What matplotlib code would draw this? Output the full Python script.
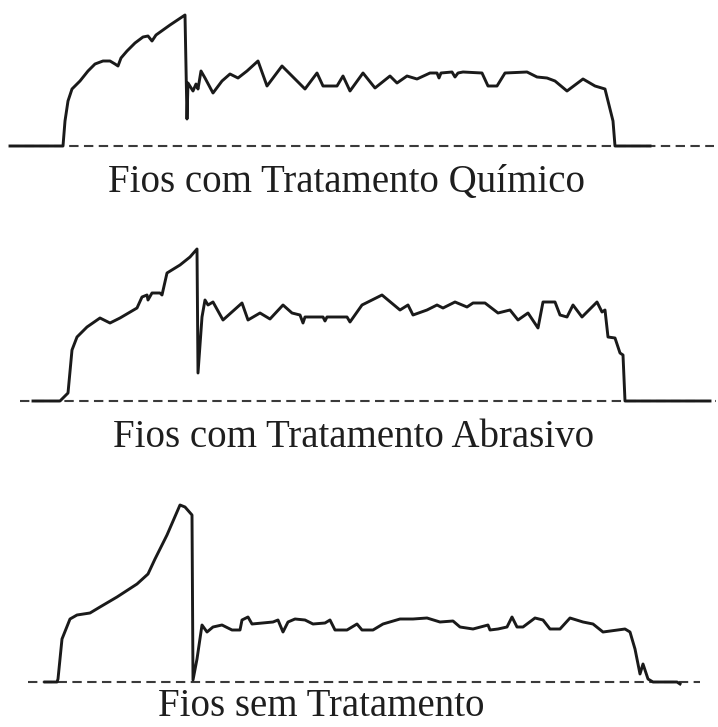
import matplotlib.pyplot as plt

# Load traces: time (px along the record) and load height above the zero line
quim_t = [10, 63, 65, 68, 72, 80, 88, 95, 103, 110, 115, 118, 121, 127, 135, 143, 148, 152, 156,
          170, 185, 187, 188, 193, 196, 198, 201, 205, 213, 222, 230, 238, 247, 258, 267, 282,
          305, 317, 323, 337, 343, 350, 363, 375, 390, 397, 407, 417, 430, 437, 439, 441, 452,
          455, 458, 463, 482, 488, 497, 505, 527, 537, 547, 555, 567, 583, 595, 605, 610, 613,
          615, 650]
quim_h = [0, 0, 25, 45, 57, 65, 75, 82, 85, 85, 82, 80, 88, 95, 103, 109, 110, 105, 111,
          121, 131, 27, 63, 55, 62, 57, 75, 68, 53, 65, 72, 68, 75, 85, 60, 80,
          57, 73, 60, 60, 70, 55, 73, 58, 70, 63, 70, 67, 73, 73, 68, 73, 74,
          69, 73, 74, 73, 60, 60, 73, 74, 69, 68, 65, 55, 67, 60, 57, 37, 25,
          0, 0]

abras_t = [33, 60, 68, 72, 77, 87, 100, 110, 120, 137, 142, 147, 148, 152, 160, 162, 167, 180,
           190, 197, 198, 202, 205, 208, 213, 223, 242, 248, 260, 270, 283, 292, 300, 303, 305,
           323, 325, 327, 347, 350, 362, 382, 400, 408, 413, 427, 437, 443, 455, 467, 473, 485,
           498, 510, 518, 528, 538, 543, 555, 560, 567, 573, 582, 597, 602, 605, 608, 615, 620,
           623, 625, 710]
abras_h = [0, 0, 8, 51, 64, 74, 83, 78, 83, 93, 104, 106, 101, 108, 108, 106, 128, 136,
           144, 152, 28, 84, 101, 96, 99, 81, 98, 81, 88, 82, 96, 88, 86, 78, 84,
           84, 80, 84, 84, 79, 96, 106, 91, 96, 86, 91, 96, 93, 99, 94, 98, 98,
           88, 91, 81, 88, 73, 99, 99, 86, 84, 96, 84, 99, 89, 91, 64, 63, 48,
           46, 0, 0]

sem_t = [45, 57, 58, 62, 70, 77, 90, 100, 117, 137, 148, 155, 167, 180, 185, 192, 193, 197,
         202, 207, 213, 222, 232, 240, 242, 248, 252, 273, 278, 283, 288, 295, 305, 313, 325,
         330, 335, 347, 357, 362, 373, 383, 400, 413, 427, 440, 453, 460, 473, 488, 490, 498,
         507, 512, 517, 523, 535, 543, 550, 560, 570, 583, 593, 603, 625, 630, 635, 640, 643,
         648, 653, 677, 680]
sem_h = [0, 0, 3, 43, 63, 67, 69, 75, 85, 98, 108, 123, 147, 177, 175, 167, 2, 23,
         57, 50, 55, 57, 52, 52, 62, 65, 58, 60, 62, 50, 60, 63, 62, 58, 59,
         62, 52, 52, 58, 52, 52, 58, 63, 63, 64, 60, 61, 55, 53, 57, 52, 53,
         55, 65, 55, 55, 64, 62, 53, 53, 64, 60, 58, 50, 53, 50, 33, 8, 18,
         3, 0, 0, -2]

captions = ["Fios com Tratamento Químico",
            "Fios com Tratamento Abrasivo",
            "Fios sem Tratamento"]

# layout in figure pixels: zero line, dashed extent, caption centre and baseline
panels = [
    (quim_t, quim_h, 146, (10, 714), (347, 192)),
    (abras_t, abras_h, 401, (20, 716), (354, 447)),
    (sem_t, sem_h, 682, (28, 700), (321, 716)),
]

fig = plt.figure(figsize=(7.18, 7.27), dpi=100)
ax = fig.add_axes([0, 0, 1, 1])
ax.set_xlim(0, 718)
ax.set_ylim(727, 0)
ax.axis('off')

for (t, h, base, (x0, x1), (xc, yc)), label in zip(panels, captions):
    ax.plot([x0, x1], [base, base], color='#3a3a3a', lw=1.5,
            ls=(0, (4.5, 2.6)), zorder=1)
    ax.plot(t, [base - v for v in h], color='#1a1a1a', lw=2.1,
            solid_joinstyle='round', zorder=2)
    ax.text(xc, yc, label, ha='center', va='baseline',
            family='Liberation Serif', fontsize=28, color='#1e1e1e')

fig.savefig('out.png', dpi=100)
